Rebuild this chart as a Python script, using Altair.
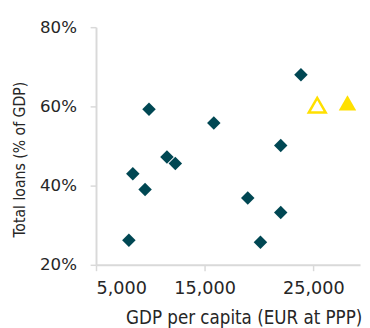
import altair as alt
import pandas as pd

# Diamonds: countries
gdp = [9877, 15840, 11529, 12301, 8386, 9517, 18965, 8026, 20132, 23860, 22000, 22000]
loans = [59.3, 55.8, 47.2, 45.6, 43.0, 39.0, 36.9, 26.2, 25.7, 68.0, 50.1, 33.2]

# Triangles
tri_gdp = [25360, 28143]
tri_loans = [60.3, 60.9]
tri_kind = ["hollow", "filled"]

x_ticks = [5000, 15000, 25000]
y_ticks = [0.2, 0.4, 0.6, 0.8]

FONT = "DejaVu Sans"
TFONT = "DejaVu Sans Condensed"
TEAL = "#004753"
YELLOW = "#FFE000"
GREY = "#d9d9d9"
TXT = "#262626"

df = pd.DataFrame({"gdp": gdp, "loans": [v / 100 for v in loans]})
tri = pd.DataFrame({"gdp": tri_gdp, "loans": [v / 100 for v in tri_loans], "kind": tri_kind})

xscale = alt.Scale(domain=[5000, 29300], nice=False, zero=False)
yscale = alt.Scale(domain=[0.2, 0.8], nice=False, zero=False)

xaxis = alt.Axis(
    title="GDP per capita (EUR at PPP)", values=x_ticks, format=",.0f", grid=False,
    domainColor=GREY, domainWidth=2, tickColor=GREY, tickWidth=1.5, tickSize=6,
    labelFont=FONT, labelFontSize=18, labelColor=TXT, labelPadding=23.5,
    labelBaseline="alphabetic",
    titleFont=TFONT, titleFontSize=19, titleFontWeight="normal", titleColor=TXT,
    titleX=151, titleY=60, titleBaseline="alphabetic", titleAlign="center",
)
yaxis = alt.Axis(
    title="Total loans (% of GDP)", values=y_ticks, format=".0%", grid=False,
    domainColor=GREY, domainWidth=2, tickColor=GREY, tickWidth=1.5, tickSize=6,
    labelFont=FONT, labelFontSize=17, labelColor=TXT, labelPadding=14,
    titleFont=TFONT, titleFontSize=16, titleFontWeight="normal", titleColor=TXT,
    titleX=-73, titleY=135, titleBaseline="alphabetic", titleAlign="center", titleAngle=270,
)

diamonds = alt.Chart(df).mark_point(
    shape="diamond", filled=True, size=190, color=TEAL, opacity=1
).encode(
    x=alt.X("gdp:Q", scale=xscale, axis=xaxis),
    y=alt.Y("loans:Q", scale=yscale, axis=yaxis),
)

hollow = alt.Chart(tri[tri["kind"] == "hollow"]).mark_point(
    shape="triangle-up", filled=False, size=300, color=YELLOW, strokeWidth=2.5, opacity=1
).encode(x=alt.X("gdp:Q", scale=xscale), y=alt.Y("loans:Q", scale=yscale))

filled = alt.Chart(tri[tri["kind"] == "filled"]).mark_point(
    shape="triangle-up", filled=True, size=320, color=YELLOW, opacity=1
).encode(x=alt.X("gdp:Q", scale=xscale), y=alt.Y("loans:Q", scale=yscale))

chart = alt.layer(diamonds, hollow, filled).properties(
    width=270, height=243,
    autosize=alt.AutoSizeParams(type="none"),
    padding={"left": 90, "top": 16, "right": 2, "bottom": 62},
).configure_view(stroke=None)

chart.save("out.html", embed_options={"renderer": "svg", "actions": False})
